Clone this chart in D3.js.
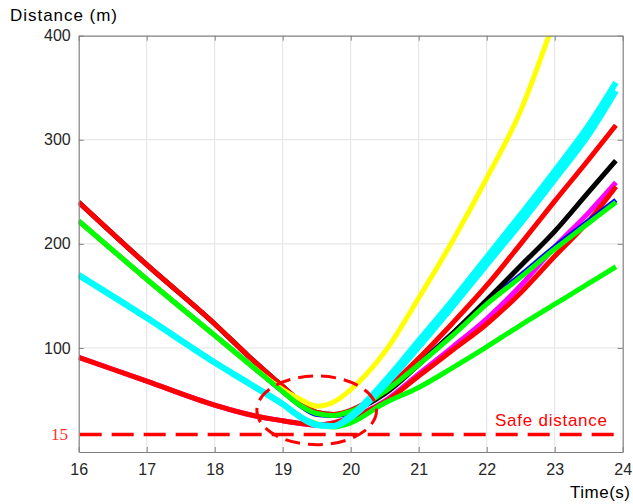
<!DOCTYPE html>
<html>
<head>
<meta charset="utf-8">
<script src="https://cdn.jsdelivr.net/npm/d3@7"></script>
<style>
	body { margin: 0; background: #fff; }
	svg { display: block; }
	text { font-family: 'Liberation Sans', Arial, sans-serif; }
</style>
</head>
<body>
<svg></svg>
<script>
const w = 633;
const h = 504;
const margin = { left: 78.7, right: 10.3, top: 35.7, bottom: 52 };

// time samples (s)
const times = [16, 17, 18, 18.5, 19, 19.25, 19.5, 19.75, 20, 20.5, 21, 21.5, 22, 22.5, 23, 23.5, 23.9];

// distances (m)
const magenta = [91, 68, 45, 36, 30, 27.5, 26, 28, 33, 49, 75, 101, 128, 160, 197, 230, 259];
const redLow = [91, 68, 45, 36, 30, 27.5, 26, 28, 33, 48, 73, 98, 123, 153, 188, 222, 255];
const yellow = [222, 166, 112, 85, 60, 51, 44, 48, 60, 96, 148, 203, 263, 328, 415, 500, 560];
const blue = [222, 166, 112, 85, 58, 45, 36, 35, 38, 58, 85, 114, 144, 170, 197, 222, 242];
const greenUp = [222, 166, 112, 85, 58, 45, 37, 35, 39, 58, 84, 112, 142, 168, 195, 220, 240];
const black = [240, 180, 123, 92, 63, 49, 38, 36, 39, 56, 84, 114, 146, 179, 212, 250, 280];
const redUp = [240, 180, 123, 92, 63, 49, 38, 36, 40, 60, 90, 124, 160, 200, 241, 281, 314];
const greenLow = [170, 129, 86, 66, 46, 34, 27, 24, 28, 47, 62, 81, 101, 122, 142, 162, 178];
const cyanB = [170, 129, 86, 66, 46, 34, 26, 25, 33, 64, 101, 140, 180, 220, 262, 305, 347];
const cyanA = [170, 129, 86, 66, 46, 34, 26, 25, 35, 68, 107, 146, 187, 228, 270, 314, 355];

const series = [
	{ name: 'magenta', values: magenta, color: '#ff00ff', width: 5 },
	{ name: 'redLow', values: redLow, color: '#ff0000', width: 5 },
	{ name: 'blue', values: blue, color: '#0000ff', width: 5 },
	{ name: 'black', values: black, color: '#000000', width: 5 },
	{ name: 'redUp', values: redUp, color: '#ff0000', width: 5 },
	{ name: 'yellow', values: yellow, color: '#ffff00', width: 5 },
	{ name: 'greenUp', values: greenUp, color: '#00ff00', width: 5 },
	{ name: 'greenLow', values: greenLow, color: '#00ff00', width: 5 },
	{ name: 'cyanB', values: cyanB, color: '#00ffff', width: 6 },
	{ name: 'cyanA', values: cyanA, color: '#00ffff', width: 6 },
];

const xTicks = [16, 17, 18, 19, 20, 21, 22, 23, 24];
const yTicks = [100, 200, 300, 400];
const safeDistance = 15;
// dashed ellipse marking the closest approach
const ellipseCenter = [19.5, 40];
const ellipseRadius = [0.88, 33];

const canvas = d3.select('svg').attr('width', w).attr('height', h);

const xScale = d3.scaleLinear().domain([16, 24]).range([margin.left, w - margin.right]);
const yScale = d3.scaleLinear().domain([0, 400]).range([h - margin.bottom, margin.top]);

const x0 = xScale.range()[0], x1 = xScale.range()[1];
const y0 = yScale.range()[0], y1 = yScale.range()[1];

// grid
canvas.append('g')
	.selectAll('line')
	.data(xTicks.slice(1, -1))
	.enter()
	.append('line')
	.attr('x1', (d) => xScale(d)).attr('x2', (d) => xScale(d))
	.attr('y1', y0).attr('y2', y1)
	.attr('stroke', '#e3e3e3');
canvas.append('g')
	.selectAll('line')
	.data(yTicks.slice(0, -1))
	.enter()
	.append('line')
	.attr('x1', x0).attr('x2', x1)
	.attr('y1', (d) => yScale(d)).attr('y2', (d) => yScale(d))
	.attr('stroke', '#e3e3e3');

canvas.append('defs').append('clipPath').attr('id', 'plot')
	.append('rect').attr('x', x0).attr('y', y1).attr('width', x1 - x0).attr('height', y0 - y1);

// safe distance line
canvas.append('line')
	.attr('x1', x0 + 1).attr('x2', x1)
	.attr('y1', yScale(safeDistance) - 2).attr('y2', yScale(safeDistance) - 2)
	.attr('stroke', '#ff0000').attr('stroke-width', 3.5)
	.attr('stroke-dasharray', '22,10');

const line = d3.line()
	.x((d, i) => xScale(times[i]))
	.y((d) => yScale(d))
	.curve(d3.curveMonotoneX);

canvas.append('g')
	.attr('clip-path', 'url(#plot)')
	.selectAll('path')
	.data(series)
	.enter()
	.append('path')
	.attr('d', (s) => line(s.values))
	.attr('fill', 'none')
	.attr('stroke', (s) => s.color)
	.attr('stroke-width', (s) => s.width)
	.attr('stroke-linejoin', 'round');

// ellipse
canvas.append('ellipse')
	.attr('cx', xScale(ellipseCenter[0]))
	.attr('cy', yScale(ellipseCenter[1]))
	.attr('rx', xScale(ellipseCenter[0] + ellipseRadius[0]) - xScale(ellipseCenter[0]))
	.attr('ry', yScale(0) - yScale(ellipseRadius[1]))
	.attr('fill', 'none')
	.attr('stroke', '#ff0000').attr('stroke-width', 3)
	.attr('stroke-dasharray', '15,8');

// axes (MATLAB-like box, inward ticks)
const xAxis = d3.axisBottom(xScale).tickValues(xTicks).tickSizeInner(-5).tickSizeOuter(0).tickPadding(12);
const yAxis = d3.axisLeft(yScale).tickValues(yTicks).tickSizeInner(-5).tickSizeOuter(0).tickPadding(8);
const xTop = d3.axisTop(xScale).tickValues(xTicks).tickSizeInner(-5).tickSizeOuter(0).tickFormat('');
const yRight = d3.axisRight(yScale).tickValues(yTicks).tickSizeInner(-5).tickSizeOuter(0).tickFormat('');

const styleAxis = (g) => {
	g.select('.domain').attr('stroke', '#808080').attr('stroke-width', 1.2);
	g.selectAll('.tick line').attr('stroke', '#808080');
	g.selectAll('.tick text').attr('fill', '#262626').attr('font-size', '16px');
};

canvas.append('g').attr('transform', `translate(0,${y0})`).call(xAxis).call(styleAxis);
canvas.append('g').attr('transform', `translate(${x0},0)`).call(yAxis).call(styleAxis);
canvas.append('g').attr('transform', `translate(0,${y1})`).call(xTop).call(styleAxis);
canvas.append('g').attr('transform', `translate(${x1},0)`).call(yRight).call(styleAxis);

// labels
canvas.append('text')
	.attr('x', 68).attr('y', yScale(safeDistance) + 4)
	.attr('text-anchor', 'end')
	.attr('fill', '#ff3030')
	.style('font-family', "'Liberation Serif', 'Times New Roman', serif")
	.attr('font-size', '17px')
	.text('15');

canvas.append('text')
	.attr('x', 10).attr('y', 21)
	.attr('fill', '#000')
	.attr('font-size', '17px')
	.attr('textLength', 107)
	.text('Distance (m)');

canvas.append('text')
	.attr('x', 570).attr('y', 498)
	.attr('fill', '#000')
	.attr('font-size', '17px')
	.attr('textLength', 60)
	.text('Time(s)');

canvas.append('text')
	.attr('x', 495).attr('y', 426)
	.attr('fill', '#ff0000')
	.attr('font-size', '17px')
	.attr('textLength', 112)
	.text('Safe distance');
</script>
</body>
</html>
